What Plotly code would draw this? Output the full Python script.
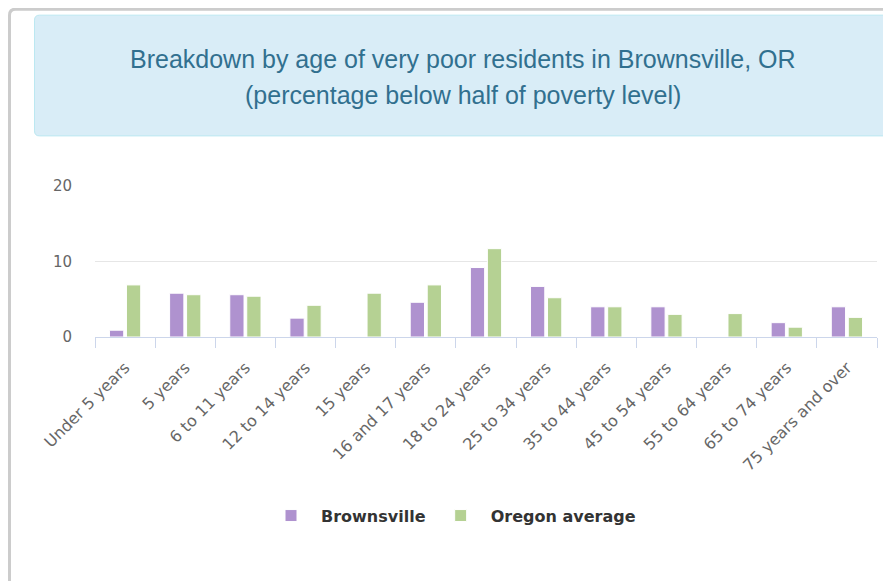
import plotly.graph_objects as go

categories = ["Under 5 years", "5 years", "6 to 11 years", "12 to 14 years", "15 years",
              "16 and 17 years", "18 to 24 years", "25 to 34 years", "35 to 44 years",
              "45 to 54 years", "55 to 64 years", "65 to 74 years", "75 years and over"]
brownsville = [0.9, 5.8, 5.6, 2.5, 0, 4.6, 9.2, 6.7, 4.0, 4.0, 0, 1.9, 4.0]
oregon = [6.9, 5.6, 5.4, 4.2, 5.8, 6.9, 11.7, 5.2, 4.0, 3.0, 3.1, 1.3, 2.6]
y_ticks = [0, 10, 20]
title_lines = ["Breakdown by age of very poor residents in Brownsville, OR",
               "(percentage below half of poverty level)"]

# page offset (default body margin of the html page)
OFF = 8
W, H = 891 - OFF, 581 - OFF
# plot area in page pixel coordinates
L, R, T, B = 95, 877, 186, 336.7


def px(x):
    return (x - L) / (R - L)


def py(y):
    return (B - y) / (B - T)


def rounded_rect(x0, y0, x1, y1, r):
    def P(x, y):
        return f"{px(x)},{py(y)}"
    return (f"M{P(x0 + r, y0)} L{P(x1 - r, y0)} Q{P(x1, y0)} {P(x1, y0 + r)} "
            f"L{P(x1, y1 - r)} Q{P(x1, y1)} {P(x1 - r, y1)} L{P(x0 + r, y1)} "
            f"Q{P(x0, y1)} {P(x0, y1 - r)} L{P(x0, y0 + r)} Q{P(x0, y0)} {P(x0 + r, y0)} Z")


fig = go.Figure()
fig.add_trace(go.Bar(name="Brownsville", x=categories, y=brownsville,
                     marker=dict(color="#af92cf", line=dict(color="#ffffff", width=1))))
fig.add_trace(go.Bar(name="Oregon average", x=categories, y=oregon,
                     marker=dict(color="#b5d193", line=dict(color="#ffffff", width=1))))

shapes = [
    dict(type="path", xref="paper", yref="paper", path=rounded_rect(9.5, 9.5, 960, 640, 6),
         line=dict(color="#cccccc", width=3), fillcolor="rgba(0,0,0,0)", layer="below"),
    dict(type="path", xref="paper", yref="paper", path=rounded_rect(34.5, 15.5, 960, 136, 5),
         line=dict(color="#bce8f1", width=1), fillcolor="#d9edf7", layer="below"),
]

annotations = [
    dict(text=title_lines[0], x=px(463), y=py(59), xref="paper", yref="paper",
         showarrow=False, xanchor="center", yanchor="middle",
         font=dict(family="Liberation Sans, Arial", size=25, color="#31708f")),
    dict(text=title_lines[1], x=px(463), y=py(95), xref="paper", yref="paper",
         showarrow=False, xanchor="center", yanchor="middle",
         font=dict(family="Liberation Sans, Arial", size=25, color="#31708f")),
]

fig.update_layout(
    width=W, height=H,
    margin=dict(l=L - OFF, r=W - (R - OFF), t=T - OFF, b=H - (B - OFF), pad=0),
    paper_bgcolor="#ffffff", plot_bgcolor="#ffffff",
    barmode="group", bargap=0.435, bargroupgap=0.16,
    font=dict(family="DejaVu Sans", size=15, color="#666666"),
    shapes=shapes, annotations=annotations,
    showlegend=True,
    legend=dict(orientation="h", x=px(451), xanchor="center", y=py(515), yanchor="middle",
                font=dict(family="DejaVu Sans", size=16, color="#333333", weight="bold"),
                itemwidth=50, traceorder="normal", bgcolor="rgba(0,0,0,0)"),
    xaxis=dict(showline=True, linecolor="#ccd6eb", linewidth=1, ticks="outside",
               tickson="boundaries", ticklen=10, tickcolor="#ccd6eb", tickwidth=1,
               tickangle=-45, showgrid=False, zeroline=False, ticklabelstandoff=14,
               tickfont=dict(family="DejaVu Sans", size=16, color="#666666")),
    yaxis=dict(range=[0, 20], tickvals=y_ticks, showgrid=True, gridcolor="#e6e6e6",
               gridwidth=1, zeroline=False, showline=False, ticklabelstandoff=22,
               tickfont=dict(family="DejaVu Sans", size=15, color="#666666")),
)

fig.write_html("out.html")
